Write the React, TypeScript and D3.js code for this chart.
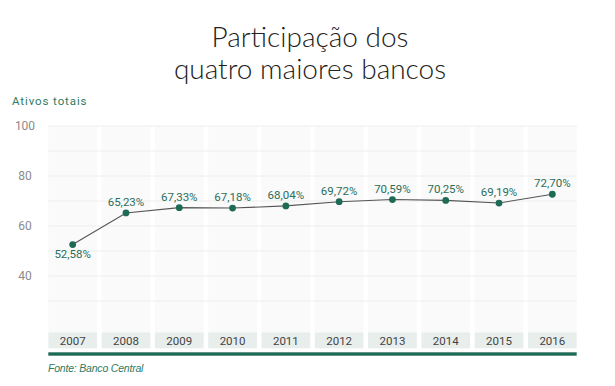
import React from "react";
import * as d3 from "d3";

const years = ["2007", "2008", "2009", "2010", "2011", "2012", "2013", "2014", "2015", "2016"];
const values = [52.58, 65.23, 67.33, 67.18, 68.04, 69.72, 70.59, 70.25, 69.19, 72.7];
const yTicks = [40, 60, 80, 100];
const gridTicks = [30, 40, 50, 60, 70, 80, 90, 100];
const titleLines = ["Participação dos", "quatro maiores bancos"];

const W = 615;
const H = 386;
const left = 48.3;
const right = 576.7;
const green = "#1e6b55";

export default function App() {
  const x = d3.scaleBand<string>().domain(years).range([left, right]).paddingInner(0.085).paddingOuter(0.0);
  const y = d3.scaleLinear().domain([20, 100]).range([326, 126]);
  const line = d3
    .line<number>()
    .x((_, i) => (x(years[i]) as number) + x.bandwidth() / 2)
    .y((d) => y(d));
  const fmt = (v: number) => v.toFixed(2).replace(".", ",") + "%";
  const plotBottom = 332;
  return (
    <svg width={W} height={H} style={{ position: "absolute", left: 0, top: 0, background: "#fff" }}>
      {titleLines.map((t, i) => (
        <text key={t} x={310} y={46.5 + i * 32} textAnchor="middle" fontFamily="Lato, sans-serif" fontWeight={300} fontSize={28} fill="#222">
          {t}
        </text>
      ))}
      <text x={12} y={105} fontFamily="Roboto, sans-serif" fontSize={11.5} letterSpacing={0.9} fill="#2f7a62">
        Ativos totais
      </text>
      {years.map((yr) => (
        <rect key={"col" + yr} x={x(yr)} y={y(100)} width={x.bandwidth()} height={plotBottom - y(100)} fill="#fafafa" />
      ))}
      {gridTicks.map((t) => (
        <line key={"g" + t} x1={left} x2={right} y1={y(t)} y2={y(t)} stroke="#eeeeee" strokeWidth={1} />
      ))}
      {yTicks.map((t) => (
        <text key={"t" + t} x={25} y={y(t) + 4} textAnchor="middle" fontFamily="Roboto, sans-serif" fontSize={12} fill="#8a8a8a">
          {t}
        </text>
      ))}
      <path d={line(values) || ""} fill="none" stroke="#555" strokeWidth={1.1} />
      {values.map((v, i) => {
        const cx = (x(years[i]) as number) + x.bandwidth() / 2;
        const below = i === 0;
        return (
          <g key={"p" + i}>
            <circle cx={cx} cy={y(v)} r={3.4} fill={green} />
            <text x={cx} y={below ? y(v) + 13.5 : y(v) - 7} textAnchor="middle" fontFamily="Roboto, sans-serif" fontSize={11.5} fill="#2a6e5a">
              {fmt(v)}
            </text>
          </g>
        );
      })}
      {years.map((yr) => (
        <g key={"b" + yr}>
          <rect x={x(yr)} y={332.3} width={x.bandwidth()} height={16} fill="#e8eeec" />
          <text x={(x(yr) as number) + x.bandwidth() / 2} y={344.5} textAnchor="middle" fontFamily="Roboto, sans-serif" fontSize={11.5} fill="#444">
            {yr}
          </text>
        </g>
      ))}
      <rect x={left} y={352.3} width={right - left} height={3.4} fill={green} />
      <text x={48} y={371.5} fontFamily="'Liberation Sans', Arial, sans-serif" fontStyle="italic" fontSize={10.5} letterSpacing={-0.2} fill="#2f7a62">
        Fonte: Banco Central
      </text>
    </svg>
  );
}
